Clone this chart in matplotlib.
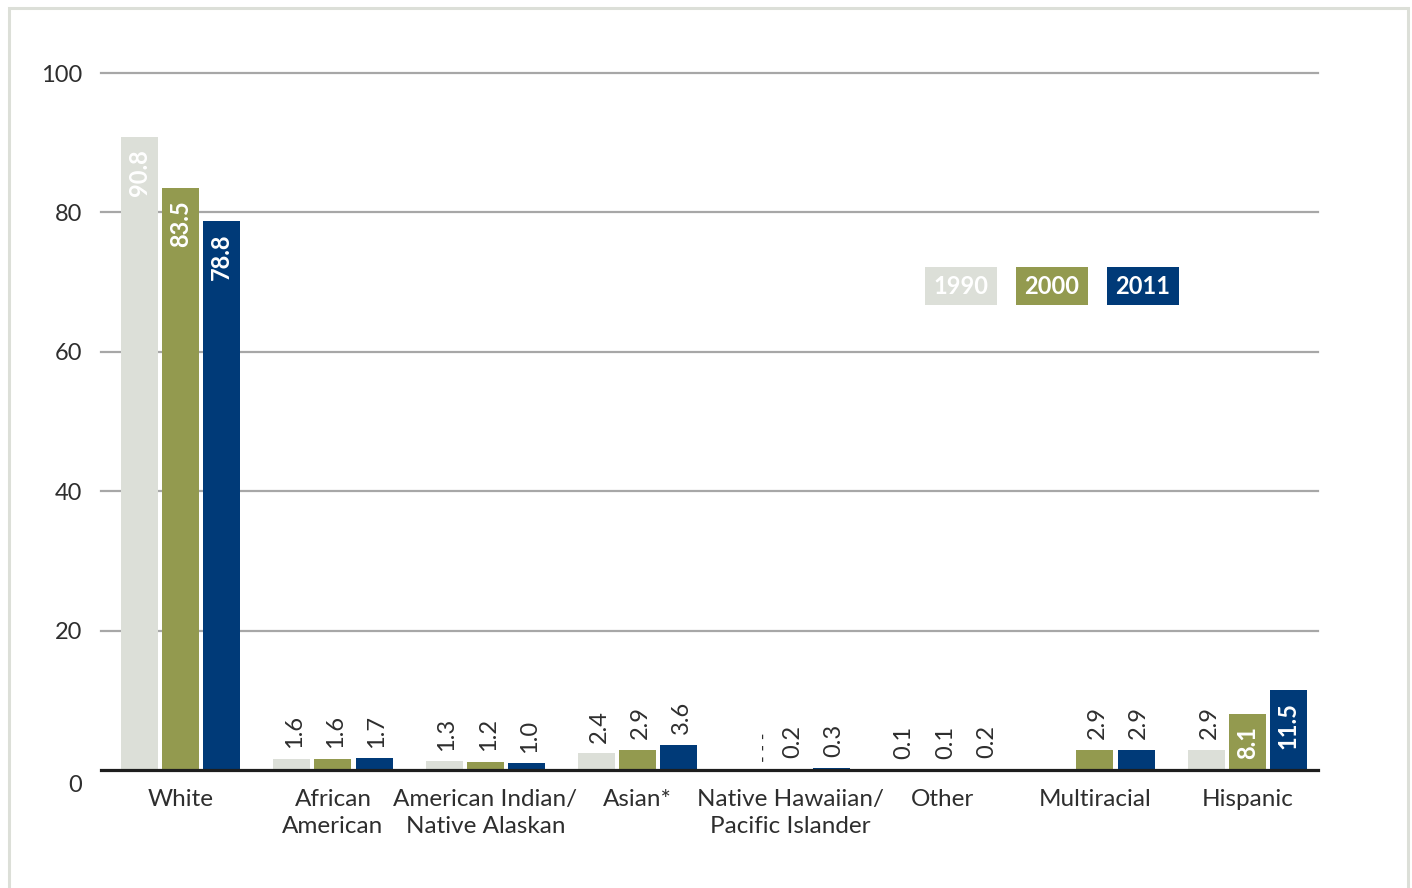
import matplotlib
matplotlib.use("Agg")
import matplotlib.pyplot as plt
from matplotlib.patches import Rectangle
from matplotlib.transforms import ScaledTranslation

plt.rcParams["font.family"] = ["Lato", "DejaVu Sans"]

categories = ["White", "African\nAmerican", "American Indian/\nNative Alaskan", "Asian*",
              "Native Hawaiian/\nPacific Islander", "Other", "Multiracial", "Hispanic"]
years = ["1990", "2000", "2011"]
values_1990 = [90.8, 1.6, 1.3, 2.4, None, 0.1, None, 2.9]
values_2000 = [83.5, 1.6, 1.2, 2.9, 0.2, 0.1, 2.9, 8.1]
values_2011 = [78.8, 1.7, 1.0, 3.6, 0.3, 0.2, 2.9, 11.5]
# text shown where a year has no figure (None means nothing at all)
missing_1990 = [None, None, None, None, "- - -", None, None, None]
y_ticks = [0, 20, 40, 60, 80, 100]

colors = ["#dcdfd8", "#939a4f", "#003a78"]
inside_text = ["#ffffff", "#ffffff", "#ffffff"]
dark = "#2e2e2e"

W, H = 1412, 888
fig = plt.figure(figsize=(W / 100, H / 100), dpi=100)
ax = fig.add_axes([101 / W, 118 / H, 1217 / W, 697 / H])
ax.set_xlim(-0.522, 7.464)
ax.set_ylim(0, 100)
for s in ax.spines.values():
    s.set_visible(False)

for t in y_ticks[1:]:
    ax.axhline(t, color="#a7a7a7", lw=1.6, clip_on=False, zorder=0)
ax.axhline(0, color="#1e1e1e", lw=2.3, clip_on=False, zorder=4)

ax.set_yticks(y_ticks)
ax.set_yticklabels([str(t) for t in y_ticks])
ax.tick_params(axis="y", length=0, pad=13.5, labelsize=17, labelcolor=dark)
# drop the zero label a little below the baseline
lbl0 = ax.get_yticklabels()[0]
lbl0.set_transform(lbl0.get_transform() + ScaledTranslation(0, -0.13, fig.dpi_scale_trans))

ax.set_xticks(range(len(categories)))
ax.set_xticklabels(categories, fontsize=17.5, color=dark, linespacing=1.35)
ax.tick_params(axis="x", length=0, pad=14)

width = 0.243
step = 0.27
series = [values_1990, values_2000, values_2011]
for k, vals in enumerate(series):
    offs = (k - 1) * step
    for i, v in enumerate(vals):
        x = i + offs
        if v is None:
            if k == 0 and missing_1990[i]:
                ax.annotate(missing_1990[i], (x + 0.1, 0), xytext=(0, 6),
                            textcoords="offset points", rotation=90,
                            ha="center", va="bottom", fontsize=13, color=dark)
            continue
        ax.bar(x, v, width=width, color=colors[k], zorder=2, linewidth=0)
        label = f"{v:.1f}"
        if v > 5:
            ax.annotate(label, (x, v), xytext=(0, -9), textcoords="offset points",
                        rotation=90, ha="center", va="top", fontsize=17,
                        fontweight="bold", color=inside_text[k], zorder=5)
        else:
            ax.annotate(label, (x, v), xytext=(2, 7.5), textcoords="offset points",
                        rotation=90, ha="center", va="bottom", fontsize=17,
                        color=dark, zorder=5)

# legend tiles
tiles = [(925, "1990"), (1016, "2000"), (1107, "2011")]
for k, (px, name) in enumerate(tiles):
    fig.add_artist(Rectangle((px / W, (H - 305) / H), 72 / W, 38 / H,
                             transform=fig.transFigure, color=colors[k], lw=0))
    fig.text((px + 36) / W, (H - 286) / H, name, ha="center", va="center",
             fontsize=17, fontweight="bold", color="#ffffff")

# outer frame
fig.add_artist(Rectangle((8.5 / W, -20 / H), 1399 / W, (H - 8.5 + 20) / H,
                         transform=fig.transFigure, fill=False,
                         edgecolor="#dcdfd8", lw=2.2, clip_on=False))

fig.savefig("out.png", dpi=100)
